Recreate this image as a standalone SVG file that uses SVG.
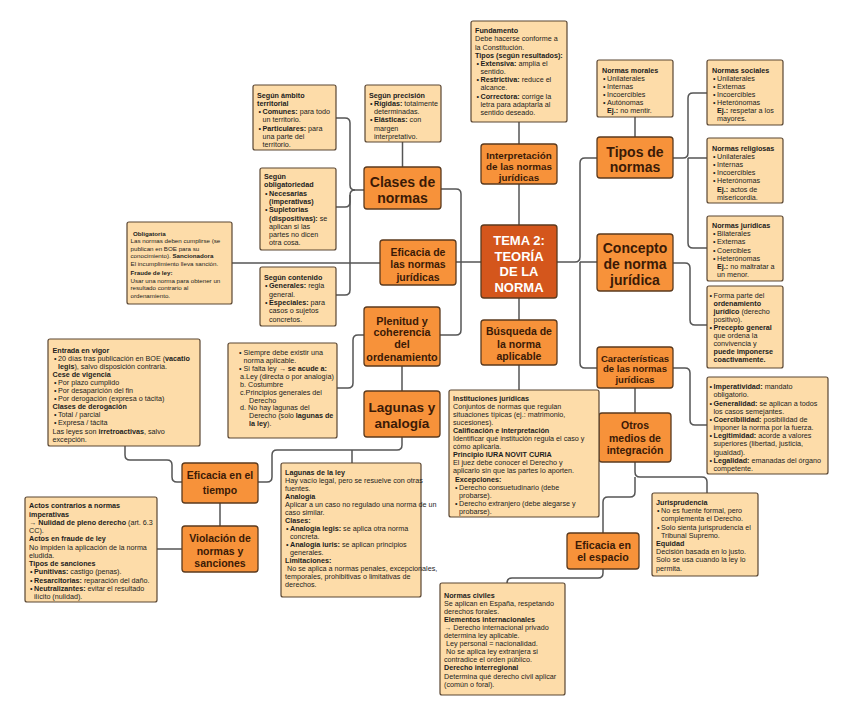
<svg xmlns="http://www.w3.org/2000/svg" width="848" height="722" viewBox="0 0 848 722">
<style>
.mn rect{fill:#F7923A;stroke:#5b3a1e;stroke-width:1.3}
.ct rect{fill:#D4561C;stroke:#5b3a1e;stroke-width:1.3}
.dt rect{fill:#FDDCA9;stroke:#5a4632;stroke-width:1.2}
.mt{font-family:"Liberation Sans",Arial,sans-serif;font-weight:bold;text-anchor:middle;fill:#3b1a06}
.ctt{font-family:"Liberation Sans",Arial,sans-serif;font-weight:bold;text-anchor:middle;fill:#ffffff;font-size:13px}
.t{font-family:"Liberation Sans",Arial,sans-serif;font-size:7.2px;fill:#1c1c1c}
.s{font-size:6.2px}
.b{font-weight:bold}
#connectors path{fill:none;stroke:#555;stroke-width:1.5}
</style>
<rect width="848" height="722" fill="#ffffff"/>
<g id="connectors">
<path d="M336,118 H345 Q350,118 350,123 V185 Q350,190 355,190 H364"/>
<path d="M336,295 H345 Q350,295 350,290 V195 Q350,190 355,190"/>
<path d="M336,207 H345 Q350,207 350,202 V195"/>
<path d="M402.5,142 V167"/>
<path d="M441,189 H456 Q461,189 461,194 V330 Q461,335 456,335 H440"/>
<path d="M481,262 H456"/>
<path d="M380,263 H232"/>
<path d="M519,225 V184"/>
<path d="M519,144 V122"/>
<path d="M519,298 V320"/>
<path d="M519,365 V390"/>
<path d="M557,262 H575 Q580,262 580,257 V163 Q580,158 585,158 H597"/>
<path d="M580,262 H597"/>
<path d="M580,262 V363 Q580,368 585,368 H597"/>
<path d="M635,117 V137"/>
<path d="M673,158 H683 Q688,158 688,153 V98 Q688,93 693,93 H707"/>
<path d="M688,158 H707"/>
<path d="M688,158 V243 Q688,248 693,248 H707"/>
<path d="M673,263 H685 Q690,263 690,268 V320 Q690,325 695,325 H707"/>
<path d="M673,368 H685 Q690,368 690,373 V420 Q690,425 695,425 H707"/>
<path d="M635,388 V413"/>
<path d="M635,462 V472 Q635,477 640,477 H702 Q707,477 707,482 V493"/>
<path d="M635,477 V492 Q635,497 630,497 H608 Q603,497 603,502 V533"/>
<path d="M603,569 V573 Q603,578 598,578 H512 Q507,578 507,583"/>
<path d="M364,335 H358 Q353,335 353,340 V383 Q353,388 348,388 H337"/>
<path d="M402,366 V391"/>
<path d="M402,437 V445 Q402,450 397,450 H277 Q272,450 272,455 V477 Q272,482 267,482 H258"/>
<path d="M352,450 V463"/>
<path d="M125,446 V455 Q125,460 130,460 H167 Q172,460 172,465 V477 Q172,482 177,482 H182"/>
<path d="M220,503 V526"/>
<path d="M182,549 H157"/>
</g>

<g id="tema" class="ct"><rect x="481" y="225" width="76" height="73" rx="3"/>
<text class="ctt"><tspan x="519" y="244.5">TEMA 2:</tspan><tspan x="519" y="260.5">TEORÍA</tspan><tspan x="519" y="276">DE LA</tspan><tspan x="519" y="292">NORMA</tspan></text></g>

<g id="clases" class="mn"><rect x="364" y="167" width="77" height="42" rx="3"/>
<text class="mt" font-size="14"><tspan x="402.5" y="187">Clases de</tspan><tspan x="402.5" y="203">normas</tspan></text></g>

<g id="interpretacion" class="mn"><rect x="481" y="144" width="76" height="40" rx="3"/>
<text class="mt" font-size="9.8"><tspan x="519" y="158.5">Interpretación</tspan><tspan x="519" y="169.5">de las normas</tspan><tspan x="519" y="180.5">jurídicas</tspan></text></g>

<g id="tipos" class="mn"><rect x="597" y="137" width="76" height="41" rx="3"/>
<text class="mt" font-size="14"><tspan x="635" y="156.5">Tipos de</tspan><tspan x="635" y="172">normas</tspan></text></g>

<g id="concepto" class="mn"><rect x="597" y="234" width="76" height="57" rx="3"/>
<text class="mt" font-size="14"><tspan x="635" y="253">Concepto</tspan><tspan x="635" y="269">de norma</tspan><tspan x="635" y="285">jurídica</tspan></text></g>

<g id="caracteristicas" class="mn"><rect x="597" y="347" width="76" height="41" rx="3"/>
<text class="mt" font-size="9.5"><tspan x="635" y="361.5">Características</tspan><tspan x="635" y="372.3">de las normas</tspan><tspan x="635" y="383">jurídicas</tspan></text></g>

<g id="otros" class="mn"><rect x="599" y="413" width="72" height="49" rx="3"/>
<text class="mt" font-size="10.5"><tspan x="635" y="429">Otros</tspan><tspan x="635" y="441.5">medios de</tspan><tspan x="635" y="454">integración</tspan></text></g>

<g id="espacio" class="mn"><rect x="567" y="533" width="72" height="36" rx="3"/>
<text class="mt" font-size="10.7"><tspan x="603" y="548.8">Eficacia en</tspan><tspan x="603" y="561.2">el espacio</tspan></text></g>

<g id="tiempo" class="mn"><rect x="182" y="463" width="76" height="40" rx="3"/>
<text class="mt" font-size="10.5"><tspan x="220" y="479">Eficacia en el</tspan><tspan x="220" y="493.5">tiempo</tspan></text></g>

<g id="violacion" class="mn"><rect x="182" y="526" width="76" height="46" rx="3"/>
<text class="mt" font-size="10.5"><tspan x="220" y="542">Violación de</tspan><tspan x="220" y="554.6">normas y</tspan><tspan x="220" y="567">sanciones</tspan></text></g>

<g id="plenitud" class="mn"><rect x="364" y="307" width="76" height="59" rx="3"/>
<text class="mt" font-size="10.8"><tspan x="402" y="324.5">Plenitud y</tspan><tspan x="402" y="336.3">coherencia</tspan><tspan x="402" y="348.3">del</tspan><tspan x="402" y="360.5">ordenamiento</tspan></text></g>

<g id="lagunas" class="mn"><rect x="364" y="391" width="76" height="46" rx="3"/>
<text class="mt" font-size="13.5"><tspan x="402" y="411.5">Lagunas y</tspan><tspan x="402" y="428">analogía</tspan></text></g>

<g id="busqueda" class="mn"><rect x="481" y="320" width="76" height="45" rx="3"/>
<text class="mt" font-size="10.5"><tspan x="519" y="335">Búsqueda de</tspan><tspan x="519" y="347.5">la norma</tspan><tspan x="519" y="360">aplicable</tspan></text></g>

<g id="eficacia-normas" class="mn"><rect x="380" y="240" width="76" height="45" rx="3"/>
<text class="mt" font-size="10.5"><tspan x="418" y="255.5">Eficacia de</tspan><tspan x="418" y="268">las normas</tspan><tspan x="418" y="280.5">jurídicas</tspan></text></g>

<g id="ambito" class="dt"><rect x="253" y="85" width="83" height="65" rx="2"/>
<text class="t"><tspan x="257" y="97.5" class="b">Según ámbito</tspan>
<tspan x="257" y="105.8" class="b">territorial</tspan>
<tspan x="258.5" y="114.1">•</tspan><tspan x="262.5" y="114.1"><tspan class="b">Comunes:</tspan> para todo</tspan>
<tspan x="262.5" y="122.4">un territorio.</tspan>
<tspan x="258.5" y="130.7">•</tspan><tspan x="262.5" y="130.7"><tspan class="b">Particulares:</tspan> para</tspan>
<tspan x="262.5" y="139">una parte del</tspan>
<tspan x="262.5" y="147.3">territorio.</tspan></text></g>

<g id="obligatoriedad" class="dt"><rect x="260" y="168" width="76" height="82" rx="2"/>
<text class="t"><tspan x="264" y="179" class="b">Según</tspan>
<tspan x="264" y="187.3" class="b">obligatoriedad</tspan>
<tspan x="265" y="195.6">•</tspan><tspan x="269" y="195.6" class="b">Necesarias</tspan>
<tspan x="269" y="203.9" class="b">(imperativas)</tspan>
<tspan x="265" y="212.2">•</tspan><tspan x="269" y="212.2" class="b">Supletorias</tspan>
<tspan x="269" y="220.5"><tspan class="b">(dispositivas):</tspan> se</tspan>
<tspan x="269" y="228.8">aplican si las</tspan>
<tspan x="269" y="237.1">partes no dicen</tspan>
<tspan x="269" y="245.4">otra cosa.</tspan></text></g>

<g id="contenido" class="dt"><rect x="260" y="267" width="76" height="59" rx="2"/>
<text class="t"><tspan x="264" y="280" class="b">Según contenido</tspan>
<tspan x="265" y="288.3">•</tspan><tspan x="269" y="288.3"><tspan class="b">Generales:</tspan> regla</tspan>
<tspan x="269" y="296.6">general.</tspan>
<tspan x="265" y="304.9">•</tspan><tspan x="269" y="304.9"><tspan class="b">Especiales:</tspan> para</tspan>
<tspan x="269" y="313.2">casos o sujetos</tspan>
<tspan x="269" y="321.5">concretos.</tspan></text></g>

<g id="obligatoria" class="dt"><rect x="127" y="222" width="105" height="82" rx="2"/>
<text class="t s"><tspan x="133" y="235.5" class="b">Obligatoria</tspan>
<tspan x="130.5" y="243.1">Las normas deben cumplirse (se</tspan>
<tspan x="130.5" y="250.7">publican en BOE para su</tspan>
<tspan x="130.5" y="258.3">conocimiento). <tspan class="b">Sancionadora</tspan></tspan>
<tspan x="130.5" y="266.3">El incumplimiento lleva sanción.</tspan>
<tspan x="130.5" y="275" class="b">Fraude de ley:</tspan>
<tspan x="130.5" y="282.6">Usar una norma para obtener un</tspan>
<tspan x="130.5" y="290.2">resultado contrario al</tspan>
<tspan x="130.5" y="297.8">ordenamiento.</tspan></text></g>

<g id="precision" class="dt"><rect x="365" y="85" width="76" height="57" rx="2"/>
<text class="t"><tspan x="369" y="97.5" class="b">Según precisión</tspan>
<tspan x="370" y="105.8">•</tspan><tspan x="374" y="105.8"><tspan class="b">Rígidas:</tspan> totalmente</tspan>
<tspan x="374" y="114.1">determinadas.</tspan>
<tspan x="370" y="122.4">•</tspan><tspan x="374" y="122.4"><tspan class="b">Elásticas:</tspan> con</tspan>
<tspan x="374" y="130.7">margen</tspan>
<tspan x="374" y="139">interpretativo.</tspan></text></g>

<g id="fundamento" class="dt"><rect x="471" y="21" width="96" height="101" rx="2"/>
<text class="t"><tspan x="475" y="33.2" class="b">Fundamento</tspan>
<tspan x="475" y="41.4">Debe hacerse conforme a</tspan>
<tspan x="475" y="49.5">la Constitución.</tspan>
<tspan x="475" y="57.7" class="b">Tipos (según resultados):</tspan>
<tspan x="476.5" y="65.8">•</tspan><tspan x="480.5" y="65.8"><tspan class="b">Extensiva:</tspan> amplía el</tspan>
<tspan x="480.5" y="74">sentido.</tspan>
<tspan x="476.5" y="82.2">•</tspan><tspan x="480.5" y="82.2"><tspan class="b">Restrictiva:</tspan> reduce el</tspan>
<tspan x="480.5" y="90.3">alcance.</tspan>
<tspan x="476.5" y="98.5">•</tspan><tspan x="480.5" y="98.5"><tspan class="b">Correctora:</tspan> corrige la</tspan>
<tspan x="480.5" y="106.6">letra para adaptarla al</tspan>
<tspan x="480.5" y="114.8">sentido deseado.</tspan></text></g>

<g id="morales" class="dt"><rect x="597" y="60" width="76" height="57" rx="2"/>
<text class="t"><tspan x="602" y="72.5" class="b">Normas morales</tspan>
<tspan x="603" y="80.7">•</tspan><tspan x="607" y="80.7">Unilaterales</tspan>
<tspan x="603" y="88.8">•</tspan><tspan x="607" y="88.8">Internas</tspan>
<tspan x="603" y="97">•</tspan><tspan x="607" y="97">Incoercibles</tspan>
<tspan x="603" y="105.1">•</tspan><tspan x="607" y="105.1">Autónomas</tspan>
<tspan x="607" y="113.3"><tspan class="b">Ej.:</tspan> no mentir.</tspan></text></g>

<g id="sociales" class="dt"><rect x="707" y="60" width="76" height="65" rx="2"/>
<text class="t"><tspan x="712" y="72.5" class="b">Normas sociales</tspan>
<tspan x="713" y="80.7">•</tspan><tspan x="717" y="80.7">Unilaterales</tspan>
<tspan x="713" y="88.8">•</tspan><tspan x="717" y="88.8">Externas</tspan>
<tspan x="713" y="97">•</tspan><tspan x="717" y="97">Incoercibles</tspan>
<tspan x="713" y="105.1">•</tspan><tspan x="717" y="105.1">Heterónomas</tspan>
<tspan x="717" y="113.3"><tspan class="b">Ej.:</tspan> respetar a los</tspan>
<tspan x="717" y="121.4">mayores.</tspan></text></g>

<g id="religiosas" class="dt"><rect x="707" y="138" width="76" height="65" rx="2"/>
<text class="t"><tspan x="712" y="150.8" class="b">Normas religiosas</tspan>
<tspan x="713" y="159">•</tspan><tspan x="717" y="159">Unilaterales</tspan>
<tspan x="713" y="167.1">•</tspan><tspan x="717" y="167.1">Internas</tspan>
<tspan x="713" y="175.3">•</tspan><tspan x="717" y="175.3">Incoercibles</tspan>
<tspan x="713" y="183.4">•</tspan><tspan x="717" y="183.4">Heterónomas</tspan>
<tspan x="717" y="191.6"><tspan class="b">Ej.:</tspan> actos de</tspan>
<tspan x="717" y="199.7">misericordia.</tspan></text></g>

<g id="juridicas" class="dt"><rect x="707" y="216" width="76" height="65" rx="2"/>
<text class="t"><tspan x="712" y="228.2" class="b">Normas jurídicas</tspan>
<tspan x="713" y="236.3">•</tspan><tspan x="717" y="236.3">Bilaterales</tspan>
<tspan x="713" y="244.4">•</tspan><tspan x="717" y="244.4">Externas</tspan>
<tspan x="713" y="252.5">•</tspan><tspan x="717" y="252.5">Coercibles</tspan>
<tspan x="713" y="260.6">•</tspan><tspan x="717" y="260.6">Heterónomas</tspan>
<tspan x="717" y="268.7"><tspan class="b">Ej.:</tspan> no maltratar a</tspan>
<tspan x="717" y="276.8">un menor.</tspan></text></g>

<g id="forma" class="dt"><rect x="707" y="286" width="76" height="82" rx="2"/>
<text class="t"><tspan x="709.5" y="297.5">•</tspan><tspan x="713.5" y="297.5">Forma parte del</tspan>
<tspan x="713.5" y="305.6" class="b">ordenamiento</tspan>
<tspan x="713.5" y="313.7"><tspan class="b">jurídico</tspan> (derecho</tspan>
<tspan x="713.5" y="321.8">positivo).</tspan>
<tspan x="709.5" y="329.9">•</tspan><tspan x="713.5" y="329.9" class="b">Precepto general</tspan>
<tspan x="713.5" y="338">que ordena la</tspan>
<tspan x="713.5" y="346.1">convivencia y</tspan>
<tspan x="713.5" y="354.2" class="b">puede imponerse</tspan>
<tspan x="713.5" y="362.3" class="b">coactivamente.</tspan></text></g>

<g id="imperatividad" class="dt"><rect x="707" y="377" width="121" height="97" rx="2"/>
<text class="t"><tspan x="709.5" y="389.2">•</tspan><tspan x="713.5" y="389.2"><tspan class="b">Imperatividad:</tspan> mandato</tspan>
<tspan x="713.5" y="397.4">obligatorio.</tspan>
<tspan x="709.5" y="405.5">•</tspan><tspan x="713.5" y="405.5"><tspan class="b">Generalidad:</tspan> se aplican a todos</tspan>
<tspan x="713.5" y="413.7">los casos semejantes.</tspan>
<tspan x="709.5" y="421.9">•</tspan><tspan x="713.5" y="421.9"><tspan class="b">Coercibilidad:</tspan> posibilidad de</tspan>
<tspan x="713.5" y="430">imponer la norma por la fuerza.</tspan>
<tspan x="709.5" y="438.2">•</tspan><tspan x="713.5" y="438.2"><tspan class="b">Legitimidad:</tspan> acorde a valores</tspan>
<tspan x="713.5" y="446.4">superiores (libertad, justicia,</tspan>
<tspan x="713.5" y="454.5">igualdad).</tspan>
<tspan x="709.5" y="462.7">•</tspan><tspan x="713.5" y="462.7"><tspan class="b">Legalidad:</tspan> emanadas del órgano</tspan>
<tspan x="713.5" y="470.9">competente.</tspan></text></g>

<g id="entrada" class="dt"><rect x="48" y="339" width="152" height="107" rx="2"/>
<text class="t"><tspan x="52.5" y="352.5" class="b">Entrada en vigor</tspan>
<tspan x="54" y="360.6">•</tspan><tspan x="58" y="360.6">20 días tras publicación en BOE (<tspan class="b">vacatio</tspan></tspan>
<tspan x="58" y="368.7"><tspan class="b">legis</tspan>), salvo disposición contraria.</tspan>
<tspan x="52.5" y="376.8" class="b">Cese de vigencia</tspan>
<tspan x="54" y="384.9">•</tspan><tspan x="58" y="384.9">Por plazo cumplido</tspan>
<tspan x="54" y="393">•</tspan><tspan x="58" y="393">Por desaparición del fin</tspan>
<tspan x="54" y="401.1">•</tspan><tspan x="58" y="401.1">Por derogación (expresa o tácita)</tspan>
<tspan x="52.5" y="409.2" class="b">Clases de derogación</tspan>
<tspan x="54" y="417.3">•</tspan><tspan x="58" y="417.3">Total / parcial</tspan>
<tspan x="54" y="425.4">•</tspan><tspan x="58" y="425.4">Expresa / tácita</tspan>
<tspan x="52.5" y="433.5">Las leyes son <tspan class="b">irretroactivas</tspan>, salvo</tspan>
<tspan x="52.5" y="441.6">excepción.</tspan></text></g>

<g id="siempre" class="dt"><rect x="228" y="343" width="109" height="95" rx="2"/>
<text class="t" font-size="7"><tspan x="239" y="354.8">•</tspan><tspan x="243.5" y="354.8">Siempre debe existir una</tspan>
<tspan x="243.5" y="362.7">norma aplicable.</tspan>
<tspan x="239" y="370.7">•</tspan><tspan x="243.5" y="370.7">Si falta ley → <tspan class="b">se acude a:</tspan></tspan>
<tspan x="240" y="378.6">a.Ley (directa o por analogía)</tspan>
<tspan x="240" y="386.6">b. Costumbre</tspan>
<tspan x="240" y="394.5">c.Principios generales del</tspan>
<tspan x="249" y="402.5">Derecho</tspan>
<tspan x="240" y="410.4">d. No hay lagunas del</tspan>
<tspan x="249" y="418.4">Derecho (solo <tspan class="b">lagunas de</tspan></tspan>
<tspan x="249" y="426.3"><tspan class="b">la ley</tspan>).</tspan></text></g>

<g id="instituciones" class="dt"><rect x="449" y="390" width="150" height="127" rx="2"/>
<text class="t"><tspan x="453" y="400.5" class="b">Instituciones jurídicas</tspan>
<tspan x="453" y="408.6">Conjuntos de normas que regulan</tspan>
<tspan x="453" y="416.7">situaciones típicas (ej.: matrimonio,</tspan>
<tspan x="453" y="424.8">sucesiones).</tspan>
<tspan x="453" y="432.9" class="b">Calificación e interpretación</tspan>
<tspan x="453" y="441">Identificar qué institución regula el caso y</tspan>
<tspan x="453" y="449.1">cómo aplicarla.</tspan>
<tspan x="453" y="457.2" class="b">Principio IURA NOVIT CURIA</tspan>
<tspan x="453" y="465.3">El juez debe conocer el Derecho y</tspan>
<tspan x="453" y="473.4">aplicarlo sin que las partes lo aporten.</tspan>
<tspan x="455" y="481.5" class="b">Excepciones:</tspan>
<tspan x="455" y="489.6">•</tspan><tspan x="459" y="489.6">Derecho consuetudinario (debe</tspan>
<tspan x="459" y="497.7">probarse).</tspan>
<tspan x="455" y="505.8">•</tspan><tspan x="459" y="505.8">Derecho extranjero (debe alegarse y</tspan>
<tspan x="459" y="513.9">probarse).</tspan></text></g>

<g id="actos" class="dt"><rect x="25" y="497" width="132" height="105" rx="2"/>
<text class="t"><tspan x="29" y="508.2" class="b">Actos contrarios a normas</tspan>
<tspan x="29" y="516.5" class="b">imperativas</tspan>
<tspan x="29" y="524.7"><tspan class="b">→ Nulidad de pleno derecho</tspan> (art. 6.3</tspan>
<tspan x="29" y="533">CC).</tspan>
<tspan x="29" y="541.3" class="b">Actos en fraude de ley</tspan>
<tspan x="29" y="549.5">No impiden la aplicación de la norma</tspan>
<tspan x="29" y="557.8">eludida.</tspan>
<tspan x="29" y="566.1" class="b">Tipos de sanciones</tspan>
<tspan x="30" y="574.3">•</tspan><tspan x="34" y="574.3"><tspan class="b">Punitivas:</tspan> castigo (penas).</tspan>
<tspan x="30" y="582.6">•</tspan><tspan x="34" y="582.6"><tspan class="b">Resarcitorias:</tspan> reparación del daño.</tspan>
<tspan x="30" y="590.9">•</tspan><tspan x="34" y="590.9"><tspan class="b">Neutralizantes:</tspan> evitar el resultado</tspan>
<tspan x="34" y="599.1">ilícito (nulidad).</tspan></text></g>

<g id="lagunas-ley" class="dt"><rect x="281" y="463" width="140" height="134" rx="2"/>
<text class="t" font-size="6.3"><tspan x="285" y="474.5" class="b">Lagunas de la ley</tspan>
<tspan x="285" y="482.5">Hay vacío legal, pero se resuelve con otras</tspan>
<tspan x="285" y="490.5">fuentes.</tspan>
<tspan x="285" y="498.5" class="b">Analogía</tspan>
<tspan x="285" y="506.5">Aplicar a un caso no regulado una norma de un</tspan>
<tspan x="285" y="514.5">caso similar.</tspan>
<tspan x="285" y="522.5" class="b">Clases:</tspan>
<tspan x="286" y="530.5">•</tspan><tspan x="290" y="530.5"><tspan class="b">Analogía legis:</tspan> se aplica otra norma</tspan>
<tspan x="290" y="538.5">concreta.</tspan>
<tspan x="286" y="546.5">•</tspan><tspan x="290" y="546.5"><tspan class="b">Analogía iuris:</tspan> se aplican principios</tspan>
<tspan x="290" y="554.5">generales.</tspan>
<tspan x="285" y="562.5" class="b">Limitaciones:</tspan>
<tspan x="287" y="570.5">No se aplica a normas penales, excepcionales,</tspan>
<tspan x="285" y="578.5">temporales, prohibitivas o limitativas de</tspan>
<tspan x="285" y="586.5">derechos.</tspan></text></g>

<g id="jurisprudencia" class="dt"><rect x="652" y="493" width="106" height="83" rx="2"/>
<text class="t"><tspan x="656" y="505" class="b">Jurisprudencia</tspan>
<tspan x="657" y="513.2">•</tspan><tspan x="661" y="513.2">No es fuente formal, pero</tspan>
<tspan x="661" y="521.4">complementa el Derecho.</tspan>
<tspan x="657" y="529.6">•</tspan><tspan x="661" y="529.6">Solo sienta jurisprudencia el</tspan>
<tspan x="661" y="537.8">Tribunal Supremo.</tspan>
<tspan x="656" y="546" class="b">Equidad</tspan>
<tspan x="656" y="554.2">Decisión basada en lo justo.</tspan>
<tspan x="656" y="562.4">Solo se usa cuando la ley lo</tspan>
<tspan x="656" y="570.6">permita.</tspan></text></g>

<g id="civiles" class="dt"><rect x="440" y="583" width="125" height="112" rx="2"/>
<text class="t"><tspan x="444" y="597.5" class="b">Normas civiles</tspan>
<tspan x="444" y="605.6">Se aplican en España, respetando</tspan>
<tspan x="444" y="613.7">derechos forales.</tspan>
<tspan x="444" y="621.8" class="b">Elementos internacionales</tspan>
<tspan x="444" y="629.9">→ Derecho internacional privado</tspan>
<tspan x="444" y="638">determina ley aplicable.</tspan>
<tspan x="446" y="646.1">Ley personal = nacionalidad.</tspan>
<tspan x="446" y="654.2">No se aplica ley extranjera si</tspan>
<tspan x="444" y="662.3">contradice el orden público.</tspan>
<tspan x="444" y="670.4" class="b">Derecho interregional</tspan>
<tspan x="444" y="678.5">Determina qué derecho civil aplicar</tspan>
<tspan x="444" y="686.6">(común o foral).</tspan></text></g>
</svg>
